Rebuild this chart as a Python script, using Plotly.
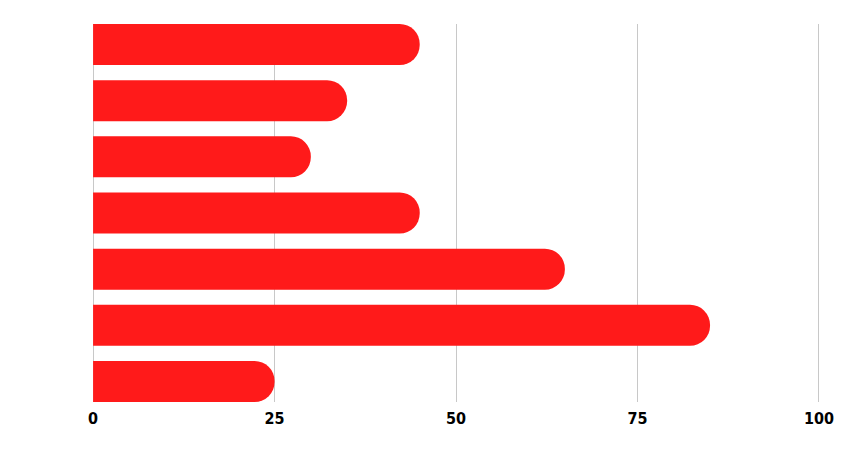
import plotly.graph_objects as go

categories = ["A", "B", "C", "D", "E", "F", "G"]
values = [45, 35, 30, 45, 65, 85, 25]
tick_vals = [0, 25, 50, 75, 100]
tick_text = ["0", "25", "50", "75", "100"]

bar_w = 0.73
fig = go.Figure(go.Bar(
    y=categories, x=values, orientation="h",
    width=bar_w,
    marker=dict(color="#ff1a1a", cornerradius="50%", line=dict(width=0)),
    hoverinfo="x",
))
fig.update_layout(
    width=850, height=450,
    margin=dict(l=84, r=38, t=16, b=56),
    plot_bgcolor="white", paper_bgcolor="white",
    showlegend=False,
    xaxis=dict(range=[-0.15, 100.15], tickvals=tick_vals, ticktext=tick_text,
               showgrid=True, gridcolor="#c8c8c8", gridwidth=1,
               zeroline=False, showline=False, ticks="", ticklabelstandoff=5,
               tickfont=dict(family="DejaVu Sans Condensed", size=16, color="black", weight="bold")),
    yaxis=dict(type="category", range=[6 + bar_w / 2, -bar_w / 2],
               showticklabels=False, showgrid=False, zeroline=False, ticks="", showline=False),
)
fig.write_html("out.html")
